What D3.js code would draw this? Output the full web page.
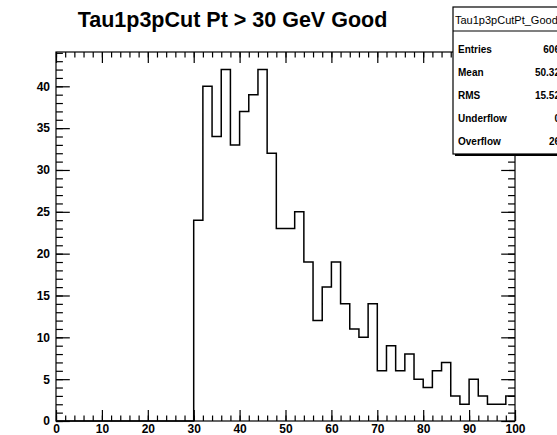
<!DOCTYPE html>
<html>
<head>
<meta charset="utf-8">
<script src="https://cdn.jsdelivr.net/npm/d3@7"></script>
<style>
  body { margin: 0; background: #fff; }
  svg { display: block; }
  text { font-family: "Liberation Sans", Arial, Helvetica, sans-serif; }
</style>
</head>
<body>
<div id="chart"></div>
<script>
// histogram: 50 bins of width 2 between 0 and 100
const binLow = 0;
const binWidth = 2;
const counts = [
  0, 0, 0, 0, 0, 0, 0, 0, 0, 0,
  0, 0, 0, 0, 0, 24, 40, 34, 42, 33,
  37, 39, 42, 32, 23, 23, 25, 19, 12, 16,
  19, 14, 11, 10, 14, 6, 9, 6, 8, 5,
  4, 6, 7, 3, 2, 5, 3, 2, 2, 3
];
const xMajor = [0, 10, 20, 30, 40, 50, 60, 70, 80, 90, 100];
const yMajor = [0, 5, 10, 15, 20, 25, 30, 35, 40];
const titleText = "Tau1p3pCut Pt > 30 GeV Good";
const statsName = "Tau1p3pCutPt_Good";
const statLabels = ["Entries", "Mean", "RMS", "Underflow", "Overflow"];
const statValues = ["606", "50.32", "15.52", "0", "26"];

const width = 557, height = 435;
const frame = {left: 56, right: 515, top: 52, bottom: 421};

const svg = d3.select("#chart").append("svg")
    .attr("width", width)
    .attr("height", height);

const xScale = d3.scaleLinear().domain([0, 100]).range([frame.left, frame.right]);
const yScale = d3.scaleLinear().domain([0, d3.max(counts) * 1.05]).range([frame.bottom, frame.top]);

// histogram outline
const pts = counts.map((c, i) => ({x: binLow + i * binWidth, y: c}));
pts.push({x: binLow + counts.length * binWidth, y: counts[counts.length - 1]});
const line = d3.line()
    .x(d => xScale(d.x))
    .y(d => yScale(d.y))
    .curve(d3.curveStepAfter);
svg.append("path")
    .attr("d", line(pts))
    .attr("fill", "none")
    .attr("stroke", "#000")
    .attr("stroke-width", 1.5);

// axes, ticks point inward like ROOT
function styleAxis(g) {
  g.select(".domain").remove();
  g.selectAll("line").attr("stroke", "#000").attr("stroke-width", 1.2);
  g.selectAll("text").attr("font-size", 12).attr("font-weight", "bold").attr("fill", "#000");
}
const xMinor = d3.range(0, 101, 2);
const yMinor = d3.range(0, 45, 1);

svg.append("g").attr("transform", `translate(0,${frame.bottom})`)
    .call(d3.axisBottom(xScale).tickValues(xMinor).tickSize(-5.5).tickFormat(""))
    .call(styleAxis);
svg.append("g").attr("transform", `translate(0,${frame.bottom})`)
    .call(d3.axisBottom(xScale).tickValues(xMajor).tickSize(-11).tickPadding(3).tickFormat(d3.format("d")))
    .call(styleAxis);
svg.append("g").attr("transform", `translate(0,${frame.top})`)
    .call(d3.axisTop(xScale).tickValues(xMinor).tickSize(-5.5).tickFormat(""))
    .call(styleAxis);
svg.append("g").attr("transform", `translate(0,${frame.top})`)
    .call(d3.axisTop(xScale).tickValues(xMajor).tickSize(-11).tickFormat(""))
    .call(styleAxis);

svg.append("g").attr("transform", `translate(${frame.left},0)`)
    .call(d3.axisLeft(yScale).tickValues(yMinor).tickSize(-6.9).tickFormat(""))
    .call(styleAxis);
svg.append("g").attr("transform", `translate(${frame.left},0)`)
    .call(d3.axisLeft(yScale).tickValues(yMajor).tickSize(-13.8).tickPadding(6).tickFormat(d3.format("d")))
    .call(styleAxis);
svg.append("g").attr("transform", `translate(${frame.right},0)`)
    .call(d3.axisRight(yScale).tickValues(yMinor).tickSize(-6.9).tickFormat(""))
    .call(styleAxis);
svg.append("g").attr("transform", `translate(${frame.right},0)`)
    .call(d3.axisRight(yScale).tickValues(yMajor).tickSize(-13.8).tickFormat(""))
    .call(styleAxis);

// frame
svg.append("rect")
    .attr("x", frame.left).attr("y", frame.top)
    .attr("width", frame.right - frame.left)
    .attr("height", frame.bottom - frame.top)
    .attr("fill", "none")
    .attr("stroke", "#000")
    .attr("stroke-width", 1.2);

// title
svg.append("text")
    .attr("x", 232.5).attr("y", 27)
    .attr("text-anchor", "middle")
    .attr("font-size", 21.5)
    .attr("font-weight", "bold")
    .text(titleText);

// stats box (runs past the right edge, as in the reference)
const box = {x: 453, y: 7, w: 130, h: 147};
svg.append("rect")
    .attr("x", box.x + 2).attr("y", box.y + 2)
    .attr("width", box.w).attr("height", box.h)
    .attr("fill", "#000");
svg.append("rect")
    .attr("x", box.x).attr("y", box.y)
    .attr("width", box.w).attr("height", box.h)
    .attr("fill", "#fff")
    .attr("stroke", "#000")
    .attr("stroke-width", 1.2);
svg.append("line")
    .attr("x1", box.x).attr("x2", box.x + box.w)
    .attr("y1", 31).attr("y2", 31)
    .attr("stroke", "#000").attr("stroke-width", 1.2);
svg.append("text")
    .attr("x", box.x + 2).attr("y", 20)
    .attr("dominant-baseline", "central")
    .attr("font-size", 11)
    .text(statsName);

const rowY = d3.scalePoint().domain(statLabels).range([49, 141]);
svg.selectAll(".statLabel")
    .data(statLabels)
    .join("text")
    .attr("class", "statLabel")
    .attr("x", box.x + 5)
    .attr("y", d => rowY(d))
    .attr("dominant-baseline", "central")
    .attr("font-size", 10)
    .attr("font-weight", "bold")
    .text(d => d);
svg.selectAll(".statValue")
    .data(statValues)
    .join("text")
    .attr("class", "statValue")
    .attr("x", 560)
    .attr("y", (d, i) => rowY(statLabels[i]))
    .attr("dominant-baseline", "central")
    .attr("text-anchor", "end")
    .attr("font-size", 10)
    .attr("font-weight", "bold")
    .text(d => d);
</script>
</body>
</html>
